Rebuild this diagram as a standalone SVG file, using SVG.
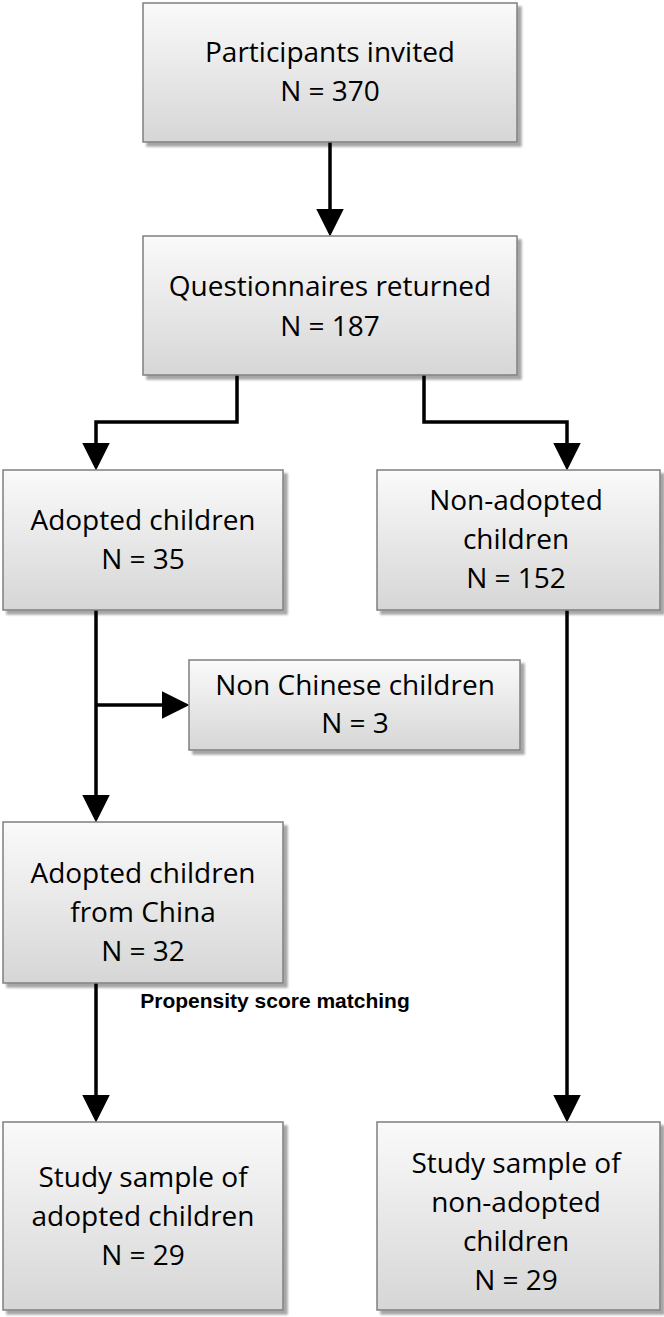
<svg xmlns="http://www.w3.org/2000/svg" width="664" height="1317" viewBox="0 0 664 1317">
<style>
.b{fill:url(#g);stroke:#7f7f7f;stroke-width:1.5;filter:url(#s)}
text{font-family:"Open Sans","Liberation Sans",sans-serif;font-size:28px;text-anchor:middle;fill:#000}
.c{fill:none;stroke:#000;stroke-width:3.5;marker-end:url(#a)}
</style>
<defs>
<linearGradient id="g" x1="0" y1="0" x2="0" y2="1"><stop offset="0" stop-color="#fafafa"/><stop offset="1" stop-color="#d6d6d6"/></linearGradient>
<filter id="s" x="-5%" y="-5%" width="115%" height="120%"><feDropShadow dx="4" dy="4" stdDeviation="1" flood-color="#000" flood-opacity="0.35"/></filter>
<marker id="a" markerWidth="8" markerHeight="8" refX="7" refY="4" orient="auto" markerUnits="strokeWidth" viewBox="0 0 8 8"><path d="M0,0 L8,4 L0,8 z" fill="#000"/></marker>
</defs>
<rect width="664" height="1317" fill="#fff"/>
<g id="connectors">
<path class="c" d="M330,142 V233"/>
<path class="c" d="M237,375 V422 H96 V467"/>
<path class="c" d="M424,375 V422 H567 V467"/>
<path class="c" d="M96,610 V819"/>
<path class="c" d="M96,705 H186"/>
<path class="c" d="M96,983 V1119"/>
<path class="c" d="M567,610 V1119"/>
</g>
<g id="n1"><rect class="b" x="143" y="3" width="374" height="139"/><text x="330" y="62">Participants invited</text><text x="330" y="101">N = 370</text></g>
<g id="n2"><rect class="b" x="143" y="236" width="374" height="139"/><text x="330" y="296">Questionnaires returned</text><text x="330" y="336">N = 187</text></g>
<g id="n3"><rect class="b" x="3" y="470" width="280" height="140"/><text x="143" y="530">Adopted children</text><text x="143" y="569">N = 35</text></g>
<g id="n4"><rect class="b" x="377" y="470" width="283" height="140"/><text x="516" y="510">Non-adopted</text><text x="516" y="549">children</text><text x="516" y="588">N = 152</text></g>
<g id="n5"><rect class="b" x="189" y="660" width="331" height="90"/><text x="355" y="695">Non Chinese children</text><text x="355" y="733">N = 3</text></g>
<g id="n6"><rect class="b" x="3" y="822" width="280" height="161"/><text x="143" y="883">Adopted children</text><text x="143" y="922">from China</text><text x="143" y="961">N = 32</text></g>
<g id="n7"><rect class="b" x="3" y="1122" width="280" height="188"/><text x="143" y="1187">Study sample of</text><text x="143" y="1226">adopted children</text><text x="143" y="1265">N = 29</text></g>
<g id="n8"><rect class="b" x="377" y="1122" width="283" height="188"/><text x="516" y="1173">Study sample of</text><text x="516" y="1212">non-adopted</text><text x="516" y="1251">children</text><text x="516" y="1290">N = 29</text></g>
<text x="275" y="1008" style="font-family:'Liberation Sans',sans-serif;font-weight:bold;font-size:21px">Propensity score matching</text>
</svg>
